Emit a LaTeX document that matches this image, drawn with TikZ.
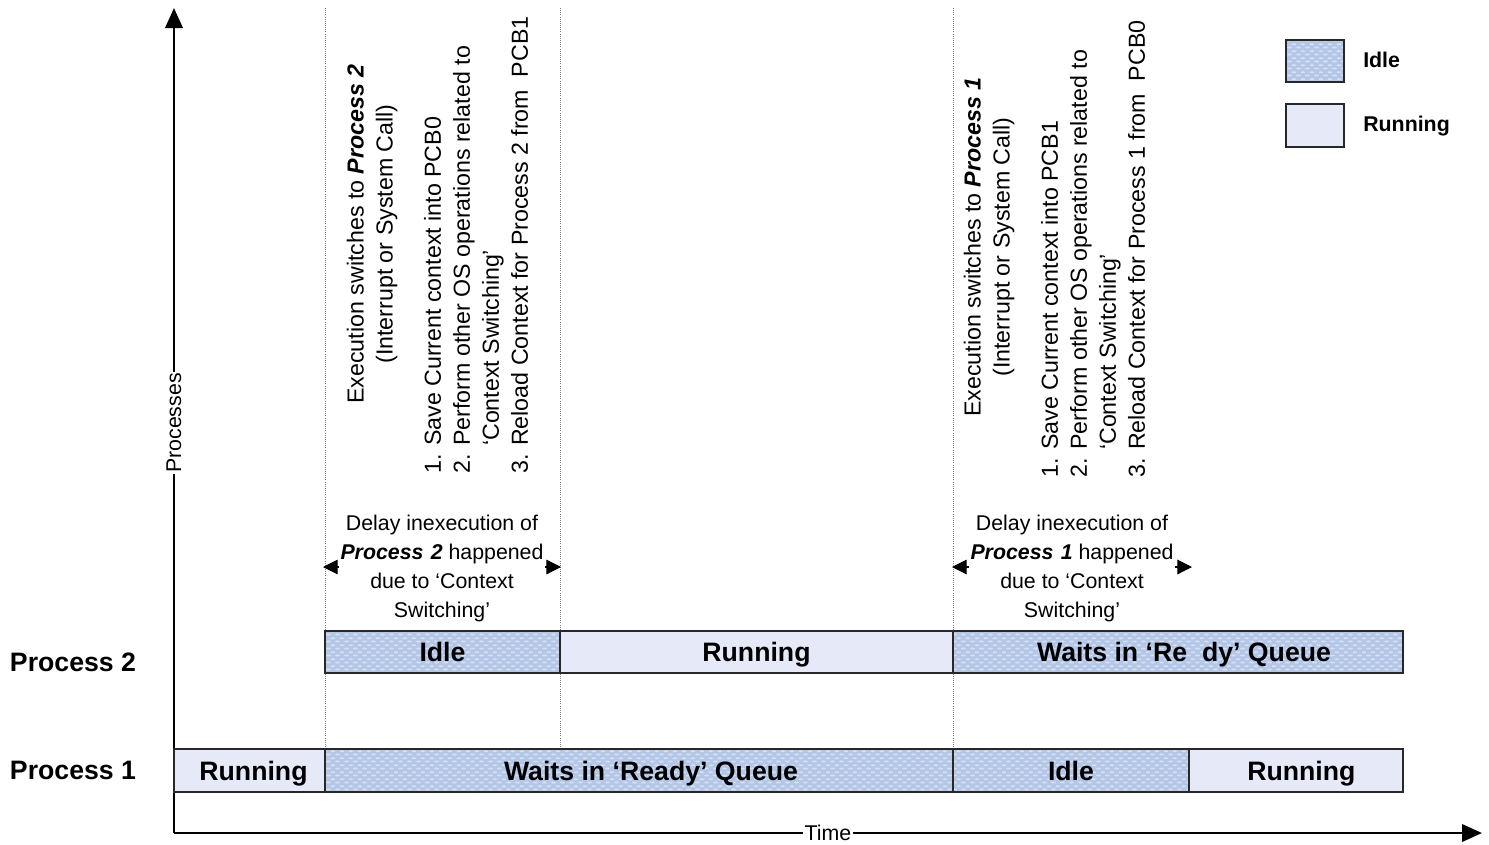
\documentclass[tikz,border=0pt]{standalone}
\usepackage{fontspec}
\setmainfont{Liberation Sans}
\usetikzlibrary{arrows.meta,patterns}

\definecolor{idlebase}{RGB}{180,199,231}
\definecolor{idlehi}{RGB}{214,225,243}
\definecolor{runfill}{RGB}{230,233,248}
\definecolor{boxline}{RGB}{40,40,40}

\pgfdeclarepatternformonly{idlecells}{\pgfpointorigin}{\pgfpoint{7pt}{5pt}}{\pgfpoint{7pt}{5pt}}{%
  \pgfsetlinewidth{1.3pt}\pgfsetroundcap
  \pgfpathmoveto{\pgfpoint{0.8pt}{1.2pt}}\pgfpathlineto{\pgfpoint{3.2pt}{1.2pt}}
  \pgfpathmoveto{\pgfpoint{4.3pt}{3.7pt}}\pgfpathlineto{\pgfpoint{6.7pt}{3.7pt}}
  \pgfusepath{stroke}}

\tikzset{
  barbox/.style={draw=boxline, line width=0.8pt, inner sep=0pt, outer sep=0pt,
    font=\fontsize{20}{24}\selectfont\bfseries, text height=14.5pt, text depth=0pt},
  idlebox/.style={barbox, preaction={fill=idlebase}, preaction={pattern=idlecells, pattern color=idlehi}},
  runbox/.style={barbox, fill=runfill},
  rowlabel/.style={font=\fontsize{20}{24}\selectfont\bfseries, inner sep=0pt},
  legtext/.style={font=\fontsize{16}{20}\selectfont\bfseries, anchor=west, inner sep=0pt},
  axisline/.style={line width=2pt, -{Triangle[length=15pt,width=13pt]}},
  axislabel/.style={font=\fontsize{16}{20}\selectfont, fill=white, inner sep=1pt},
  guide/.style={draw=gray, line width=0.6pt, densely dotted},
  delayarrow/.style={line width=0.8pt, {Triangle[length=11pt,width=11pt]}-{Triangle[length=11pt,width=11pt]}},
  delaytext/.style={font=\fontsize{16}{21.75}\selectfont, align=center, fill=white, inner sep=1pt},
  rottext/.style={font=\fontsize{17.4}{21.75}\selectfont, rotate=90, inner sep=0pt},
}

\begin{document}
\begin{tikzpicture}[x=0.75pt,y=-0.75pt]
\useasboundingbox (0,0) rectangle (1489,844);

% guide lines
\coordinate (g1t) at (325,8);  \coordinate (g1b) at (325,749);
\coordinate (g2t) at (560,8);  \coordinate (g2b) at (560,749);
\coordinate (g3t) at (953,8);  \coordinate (g3b) at (953,749);
\draw[guide] (g1t) -- (g1b);
\draw[guide] (g2t) -- (g2b);
\draw[guide] (g3t) -- (g3b);

% axes
\coordinate (O) at (174,833);
\coordinate (ytop) at (174,8);
\coordinate (xend) at (1482,833);
\draw[axisline] (O) -- (ytop);
\draw[axisline] (O) -- (xend);
\node[axislabel, rotate=90] (plabel) at (174,423) {Processes};
\node[axislabel] (tlabel) at (828,833) {Time};

% row labels
\node[rowlabel] (lp2) at (73,662) {Process 2};
\node[rowlabel] (lp1) at (73,770) {Process 1};

% process 2 row
\node[idlebox, minimum width=176.25pt, minimum height=31.5pt] (p2idle) at (442.5,652) {Idle};
\node[runbox, minimum width=294.75pt, minimum height=31.5pt] (p2run) at (756.5,652) {Running};
\node[idlebox, minimum width=337.5pt, minimum height=31.5pt] (p2wait) at (1178,652) {\hspace*{9pt}Waits in ‘Re\hphantom{a}dy’ Queue};

% process 1 row
\node[runbox, minimum width=113.25pt, minimum height=32.25pt] (p1run) at (249.5,770.5) {\hspace*{6pt}Running};
\node[idlebox, minimum width=471pt, minimum height=32.25pt] (p1wait) at (639,770.5) {\hspace*{18pt}Waits in ‘Ready’ Queue};
\node[idlebox, minimum width=177pt, minimum height=32.25pt] (p1idle) at (1071,770.5) {Idle};
\node[runbox, minimum width=160.5pt, minimum height=32.25pt] (p1run2) at (1296,770.5) {\hspace*{8pt}Running};

% legend
\node[idlebox, minimum width=43.5pt, minimum height=31.5pt] (legidle) at (1315,61) {};
\node[runbox, minimum width=43.5pt, minimum height=32.25pt] (legrun) at (1315,125.5) {};
\node[legtext] (legidlet) at (1363,60) {Idle};
\node[legtext] (legrunt) at (1363,126) {Running};

% delay annotations
\coordinate (d1l) at (323,567); \coordinate (d1r) at (561,567);
\coordinate (d2l) at (952,567); \coordinate (d2r) at (1192,567);
\draw[delayarrow] (d1l) -- (d1r);
\draw[delayarrow] (d2l) -- (d2r);
\node[delaytext] (delay1) at (442,568) {Delay inexecution of\\\textbf{\textit{Process\ \hspace{1pt}2}} happened\\due to ‘Context\\Switching’};
\node[delaytext] (delay2) at (1072,568) {Delay inexecution of\\\textbf{\textit{Process\ \hspace{1pt}1}} happened\\due to ‘Context\\Switching’};

% rotated explanations
\node[rottext, align=center] (exe1) at (372,234) {Execution switches to \textbf{\textit{Process 2}}\\(Interrupt or System Call)};
\node[rottext, align=left, anchor=west] (list1) at (476,474) {1. Save Current context into PCB0\\2. Perform other OS operations related to\\\hphantom{2. }‘Context Switching’\\3. Reload Context for Process 2 from\ \ PCB1};
\node[rottext, align=center] (exe2) at (989,247) {Execution switches to \textbf{\textit{Process 1}}\\(Interrupt or System Call)};
\node[rottext, align=left, anchor=west] (list2) at (1093,478) {1. Save Current context into PCB1\\2. Perform other OS operations related to\\\hphantom{2. }‘Context Switching’\\3. Reload Context for Process 1 from\ \ PCB0};

\end{tikzpicture}
\end{document}
